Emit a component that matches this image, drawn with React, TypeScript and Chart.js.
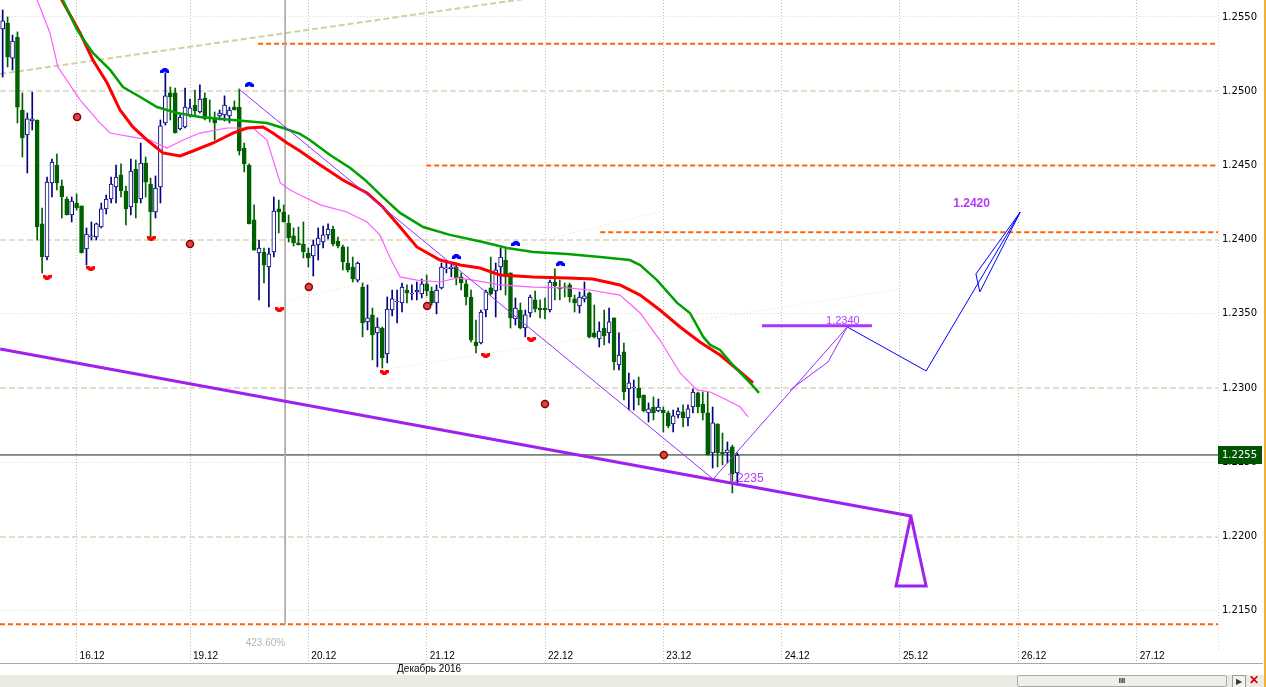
import React, { useEffect, useRef } from 'react';
import { Chart, registerables } from 'chart.js';

Chart.register(...registerables);

// ---------------- data ----------------
// Hourly EURUSD bars; x value = bar index, 0 = 19.12 00:00
const FIRST_BAR = -38;

const opens = [
  1.25419, 1.25459, 1.25223, 1.25365, 1.24873, 1.24705, 1.24799, 1.24806, 1.24106, 1.23883,
  1.24382, 1.24503, 1.24361, 1.24274, 1.24166, 1.24247, 1.24227, 1.23937, 1.24018, 1.24018,
  1.24085, 1.24207, 1.24274, 1.24355, 1.24436, 1.24328, 1.24220, 1.24476, 1.24274, 1.24516,
  1.24375, 1.24186, 1.24355, 1.24786, 1.24988, 1.24988, 1.24745, 1.24759, 1.24840, 1.24907,
  1.24860, 1.24954, 1.24826, 1.24819, 1.24833, 1.24840, 1.24833, 1.24893, 1.24893, 1.24617,
  1.24503, 1.24133, 1.23910, 1.23917, 1.23816, 1.23917, 1.24207, 1.24186, 1.24112, 1.24025,
  1.23978, 1.23971, 1.23910, 1.23890, 1.23964, 1.23984, 1.24032, 1.24072, 1.23991, 1.23951,
  1.23843, 1.23816, 1.23728, 1.23681, 1.23446, 1.23493, 1.23372, 1.23405, 1.23230, 1.23526,
  1.23580, 1.23574, 1.23661, 1.23634, 1.23648, 1.23634, 1.23702, 1.23654, 1.23574, 1.23675,
  1.23803, 1.23803, 1.23816, 1.23749, 1.23702, 1.23614, 1.23311, 1.23304, 1.23526, 1.23675,
  1.23654, 1.23816, 1.23863, 1.23776, 1.23466, 1.23526, 1.23405, 1.23506, 1.23594, 1.23540,
  1.23540, 1.23526, 1.23715, 1.23681, 1.23681, 1.23695, 1.23601, 1.23553, 1.23601, 1.23641,
  1.23372, 1.23331, 1.23405, 1.23372, 1.23473, 1.23156, 1.23244, 1.22995, 1.23001, 1.23001,
  1.22954, 1.22833, 1.22873, 1.22846, 1.22853, 1.22833, 1.22759, 1.22819, 1.22840, 1.22799,
  1.22873, 1.22968, 1.22893, 1.22833, 1.22564, 1.22759, 1.22570, 1.22564, 1.22604, 1.22429,
];
const highs = [
  1.25547, 1.25500, 1.25378, 1.25399, 1.24988, 1.24853, 1.24994, 1.24806, 1.24213, 1.24422,
  1.24543, 1.24577, 1.24402, 1.24287, 1.24287, 1.24308, 1.24227, 1.24079, 1.24119, 1.24112,
  1.24247, 1.24301, 1.24422, 1.24503, 1.24510, 1.24361, 1.24543, 1.24537, 1.24651, 1.24557,
  1.24415, 1.24429, 1.24806, 1.25122, 1.25028, 1.25021, 1.24840, 1.25021, 1.24947, 1.25008,
  1.25042, 1.24988, 1.24941, 1.24860, 1.24873, 1.24968, 1.24893, 1.24934, 1.25015, 1.24651,
  1.24510, 1.24234, 1.23998, 1.23944, 1.23944, 1.24287, 1.24267, 1.24234, 1.24166, 1.24079,
  1.24085, 1.24119, 1.23944, 1.23998, 1.24079, 1.24092, 1.24106, 1.24092, 1.24018, 1.23964,
  1.23951, 1.23883, 1.23850, 1.23708, 1.23695, 1.23540, 1.23473, 1.23412, 1.23614, 1.23661,
  1.23661, 1.23708, 1.23695, 1.23695, 1.23715, 1.23735, 1.23762, 1.23681, 1.23695, 1.23843,
  1.23843, 1.23843, 1.23843, 1.23776, 1.23728, 1.23661, 1.23459, 1.23526, 1.23661, 1.23883,
  1.23843, 1.23944, 1.23937, 1.23776, 1.23607, 1.23574, 1.23526, 1.23627, 1.23654, 1.23594,
  1.23607, 1.23728, 1.23803, 1.23728, 1.23708, 1.23708, 1.23627, 1.23648, 1.23715, 1.23648,
  1.23560, 1.23446, 1.23526, 1.23540, 1.23473, 1.23372, 1.23304, 1.23102, 1.23055, 1.23075,
  1.22954, 1.22900, 1.22941, 1.22927, 1.22873, 1.22846, 1.22853, 1.22867, 1.22887, 1.22887,
  1.22995, 1.22974, 1.22974, 1.22974, 1.22873, 1.22759, 1.22698, 1.22638, 1.22617, 1.22564,
];
const lows = [
  1.25095, 1.25163, 1.25143, 1.24786, 1.24557, 1.24449, 1.24739, 1.23998, 1.23776, 1.23863,
  1.24287, 1.24335, 1.24146, 1.24166, 1.24119, 1.24200, 1.23910, 1.23829, 1.23998, 1.23998,
  1.24079, 1.24173, 1.24247, 1.24247, 1.24287, 1.24099, 1.24166, 1.24146, 1.24247, 1.24287,
  1.24018, 1.24146, 1.24247, 1.24772, 1.24806, 1.24718, 1.24739, 1.24752, 1.24826, 1.24840,
  1.24853, 1.24806, 1.24792, 1.24671, 1.24806, 1.24799, 1.24786, 1.24873, 1.24570, 1.24456,
  1.24106, 1.23930, 1.23594, 1.23708, 1.23547, 1.23883, 1.24045, 1.24119, 1.23984, 1.23957,
  1.23964, 1.23877, 1.23816, 1.23755, 1.23863, 1.23944, 1.24005, 1.23957, 1.23944, 1.23796,
  1.23782, 1.23715, 1.23715, 1.23345, 1.23392, 1.23190, 1.23143, 1.23136, 1.23170, 1.23486,
  1.23439, 1.23513, 1.23574, 1.23594, 1.23594, 1.23607, 1.23621, 1.23560, 1.23500, 1.23668,
  1.23776, 1.23749, 1.23695, 1.23661, 1.23560, 1.23311, 1.23237, 1.23298, 1.23479, 1.23627,
  1.23479, 1.23661, 1.23627, 1.23405, 1.23425, 1.23399, 1.23345, 1.23479, 1.23513, 1.23473,
  1.23466, 1.23513, 1.23594, 1.23594, 1.23614, 1.23580, 1.23513, 1.23506, 1.23580, 1.23338,
  1.23338, 1.23277, 1.23291, 1.23304, 1.23122, 1.23122, 1.22920, 1.22853, 1.22853, 1.22887,
  1.22840, 1.22772, 1.22786, 1.22840, 1.22705, 1.22732, 1.22705, 1.22799, 1.22739, 1.22745,
  1.22833, 1.22833, 1.22786, 1.22550, 1.22462, 1.22469, 1.22483, 1.22496, 1.22294, 1.22348,
];
const closes = [
  1.25473, 1.25230, 1.25338, 1.24893, 1.24685, 1.24813, 1.24813, 1.24085, 1.23883, 1.24388,
  1.24523, 1.24382, 1.24287, 1.24166, 1.24260, 1.24213, 1.23910, 1.24038, 1.24025, 1.24106,
  1.24207, 1.24274, 1.24375, 1.24422, 1.24328, 1.24207, 1.24462, 1.24247, 1.24516, 1.24388,
  1.24186, 1.24348, 1.24766, 1.24968, 1.24961, 1.24718, 1.24826, 1.24893, 1.24887, 1.24867,
  1.24947, 1.24813, 1.24813, 1.24786, 1.24853, 1.24907, 1.24873, 1.24873, 1.24597, 1.24510,
  1.24106, 1.23930, 1.23944, 1.23829, 1.23904, 1.24193, 1.24186, 1.24119, 1.24011, 1.23978,
  1.23964, 1.23917, 1.23877, 1.23964, 1.24011, 1.24032, 1.24072, 1.23971, 1.23957, 1.23850,
  1.23796, 1.23735, 1.23843, 1.23439, 1.23473, 1.23358, 1.23412, 1.23203, 1.23533, 1.23601,
  1.23587, 1.23681, 1.23641, 1.23640, 1.23661, 1.23702, 1.23654, 1.23574, 1.23661, 1.23816,
  1.23809, 1.23816, 1.23742, 1.23708, 1.23614, 1.23324, 1.23284, 1.23513, 1.23648, 1.23634,
  1.23796, 1.23883, 1.23749, 1.23473, 1.23540, 1.23405, 1.23493, 1.23614, 1.23533, 1.23526,
  1.23526, 1.23715, 1.23688, 1.23668, 1.23675, 1.23614, 1.23574, 1.23614, 1.23621, 1.23345,
  1.23345, 1.23385, 1.23351, 1.23446, 1.23176, 1.23223, 1.22974, 1.23035, 1.23005, 1.22934,
  1.22846, 1.22860, 1.22833, 1.22873, 1.22833, 1.22745, 1.22813, 1.22846, 1.22799, 1.22860,
  1.22974, 1.22873, 1.22833, 1.22550, 1.22766, 1.22564, 1.22557, 1.22584, 1.22422, 1.22550,
];

// Moving averages (sampled along the curves)
const maGreenX = [-27, -25.8, -22.9, -19.7, -16.2, -13.6, -10.1, -6.7, -2.6, 2.0, 8.7, 15.6, 18.9, 22.3, 24.3, 28.4, 32.5, 35.5, 39.1, 42.6, 47.3, 52.7, 59.4, 64.3, 69.6, 76.5, 83.2, 89.2, 91.3, 94.7, 98.8, 101.4, 104.1, 105.5, 107.5, 110.1, 113.6, 115.4];
const maGreenY = [1.25702, 1.25614, 1.25412, 1.25257, 1.25143, 1.25028, 1.24961, 1.24893, 1.24853, 1.24826, 1.24806, 1.24786, 1.24752, 1.24712, 1.24671, 1.24570, 1.24483, 1.24402, 1.24287, 1.24180, 1.24085, 1.24032, 1.23984, 1.23944, 1.23917, 1.23904, 1.23883, 1.23863, 1.23829, 1.23728, 1.23574, 1.23506, 1.23345, 1.23291, 1.23257, 1.23156, 1.23035, 1.22968];
const maRedX = [-27, -26.0, -22.3, -19.7, -16.8, -14.2, -11.6, -8.7, -5.5, -2.0, 0.6, 4.7, 8.7, 11.6, 14.8, 16.8, 19.7, 22.3, 26.4, 31.0, 35.9, 39.1, 42.6, 46.0, 50.7, 54.8, 58.8, 62.9, 69.6, 76.5, 81.7, 87.2, 91.3, 95.3, 99.4, 103.4, 107.5, 111.6, 114.2];
const maRedY = [1.25675, 1.25614, 1.25392, 1.25210, 1.25055, 1.24873, 1.24759, 1.24671, 1.24584, 1.24564, 1.24597, 1.24651, 1.24718, 1.24752, 1.24759, 1.24718, 1.24651, 1.24597, 1.24503, 1.24402, 1.24314, 1.24220, 1.24085, 1.23951, 1.23863, 1.23829, 1.23809, 1.23762, 1.23749, 1.23742, 1.23735, 1.23695, 1.23627, 1.23526, 1.23412, 1.23311, 1.23223, 1.23109, 1.23035];
const maPinkX = [-32.5, -31.0, -28.4, -26.8, -22.3, -18.3, -16.2, -11.6, -8.1, -4.7, -1.4, 2.0, 7.5, 12.8, 15.6, 18.3, 20.3, 22.3, 26.4, 31.8, 35.9, 38.5, 40.6, 42.6, 46.0, 50.7, 54.2, 57.4, 62.9, 69.6, 76.5, 81.1, 87.2, 91.3, 95.3, 99.4, 102.8, 105.5, 108.9, 111.6, 113.2];
const maPinkY = [1.25735, 1.25614, 1.25392, 1.25163, 1.24941, 1.24786, 1.24718, 1.24691, 1.24671, 1.24617, 1.24671, 1.24718, 1.24752, 1.24752, 1.24671, 1.24382, 1.24335, 1.24301, 1.24234, 1.24186, 1.24119, 1.24032, 1.23877, 1.23749, 1.23728, 1.23715, 1.23742, 1.23728, 1.23695, 1.23681, 1.23675, 1.23661, 1.23627, 1.23506, 1.23324, 1.23102, 1.22988, 1.22974, 1.22920, 1.22873, 1.22806];

// Drawn objects
const trendX = [-38.5, 146.2, 143.2, 149.3, 146.2];
const trendY = [1.23264, 1.22139, 1.21668, 1.21668, 1.22139];
const waveX = [9.9, 106.1, 133.3];
const waveY = [1.25015, 1.22388, 1.23412];
const waveAltX = [121.7, 129.4, 133.3];
const waveAltY = [1.22988, 1.23176, 1.23412];
const target2340X = [116.0, 138.3];
const target2340Y = [1.2342, 1.2342];
const forecastX = [133.3, 149.3, 168.4];
const forecastY = [1.23412, 1.23116, 1.24186];
const wedgeX = [159.4, 168.4, 160.2, 159.4];
const wedgeY = [1.23769, 1.24186, 1.23648, 1.23769];
const channelX = [-38.5, 80];
const channelY = [1.25116, 1.25679];
const faintLine1X = [16.2, 95.3];
const faintLine1Y = [1.23560, 1.24186];
const faintLine2X = [39.1, 144.0];
const faintLine2Y = [1.23122, 1.23668];
const levelPrices = [1.2532, 1.2450, 1.2405, 1.2141];
const levelStarts = [13.8, 47.9, 83.2, -38.54];
const lastPrice = 1.2255;
const fiboBar = 19.3;
const fiboLow = 1.2141;
const fiboText = '423.60%';

// Fractals and daily pivots
const fracUpX = [-5.1, 12.0, 54.0, 66.1, 75.1];
const fracUpY = [1.25136, 1.25042, 1.23883, 1.23971, 1.23836];
const fracDnX = [-29.0, -20.1, -7.9, 18.1, 39.4, 60.0, 69.2];
const fracDnY = [1.23749, 1.23809, 1.24011, 1.23533, 1.23109, 1.23223, 1.23331];
const pivotX = [-22.9, 0, 24.1, 48.1, 72.0, 96.1];
const pivotY = [1.24826, 1.23971, 1.23681, 1.23553, 1.22893, 1.22550];

// Notes
const noteTexts = ['1.2235', '1.2340', '1.2420'];
const noteBars = [108.9, 129.0, 154.8];
const notePrices = [1.22388, 1.23452, 1.24240];
const monthText = 'Декабрь 2016';
const monthBar = 42;

// Axes
const dayTicks = [-23, 0, 24, 48, 72, 96, 120, 144, 168, 192];
const dayLabels = ['16.12', '19.12', '20.12', '21.12', '22.12', '23.12', '24.12', '25.12', '26.12', '27.12'];
const priceTicks = [1.215, 1.22, 1.225, 1.23, 1.235, 1.24, 1.245, 1.25, 1.255];
const X_MIN = -38.54;
const X_MAX = 208.5;
const Y_MIN = 1.2125;
const Y_MAX = 1.25614;

// ---------------- helpers ----------------
const NAVY = '#000080';
const BEAR = '#006000';
const PURPLE = '#a020f0';

const pts = (xs: number[], ys: number[]) => xs.map((x, i) => ({ x, y: ys[i] }));

function lineDs(xs: number[], ys: number[], color: string, width: number, order: number, dash: number[] = []) {
  return {
    type: 'line' as const,
    data: pts(xs, ys),
    borderColor: color,
    borderWidth: width,
    borderDash: dash,
    pointRadius: 0,
    pointHoverRadius: 0,
    fill: false,
    tension: 0,
    order,
  };
}

function fractalImage(color: string, up: boolean) {
  const c = document.createElement('canvas');
  c.width = 9;
  c.height = 6;
  const g = c.getContext('2d')!;
  g.fillStyle = color;
  const shape = [[3, 0], [6, 0], [9, 2.5], [9, 5], [6, 5], [4.5, 3.5], [3, 5], [0, 5], [0, 2.5]];
  g.beginPath();
  shape.forEach(([px, py], i) => {
    const yy = up ? py : 6 - py;
    if (i) g.lineTo(px, yy); else g.moveTo(px, yy);
  });
  g.closePath();
  g.fill();
  return c;
}

const isBull = (k: number) => closes[k] >= opens[k];

const overlay = {
  id: 'mtOverlay',
  afterDatasetsDraw(chart: any) {
    const { ctx, chartArea: a, scales } = chart;
    const xs = scales.x;
    const ys = scales.y;
    ctx.save();
    ctx.beginPath();
    ctx.rect(a.left, a.top, a.right - a.left, a.bottom - a.top);
    ctx.clip();
    const fonts = ['12px "Liberation Sans", Arial', '11px "Liberation Sans", Arial', 'bold 12px "Liberation Sans", Arial'];
    ctx.textBaseline = 'middle';
    ctx.textAlign = 'left';
    noteTexts.forEach((t, k) => {
      ctx.font = fonts[k];
      ctx.fillStyle = '#b13cff';
      ctx.fillText(t, xs.getPixelForValue(noteBars[k]), ys.getPixelForValue(notePrices[k]));
    });
    // fibo label
    ctx.font = '10px "Liberation Sans", Arial';
    ctx.fillStyle = '#b4b4b4';
    ctx.textAlign = 'right';
    ctx.fillText(fiboText, xs.getPixelForValue(fiboBar), a.bottom - 5);
    ctx.restore();
  },
  afterDraw(chart: any) {
    const { ctx, chartArea: a, scales } = chart;
    const xs = scales.x;
    const ys = scales.y;
    ctx.save();
    // right border of plot
    ctx.strokeStyle = '#d6d6cc';
    ctx.lineWidth = 1;
    ctx.setLineDash([1, 2]);
    ctx.beginPath();
    ctx.moveTo(Math.round(a.right) + 0.5, a.top);
    ctx.lineTo(Math.round(a.right) + 0.5, a.bottom + 2);
    ctx.stroke();
    ctx.setLineDash([]);
    // current price box
    const py = Math.round(ys.getPixelForValue(lastPrice));
    ctx.fillStyle = '#005400';
    ctx.fillRect(a.right, py - 9, 44, 18);
    ctx.fillStyle = '#ffffff';
    ctx.font = '10px "DejaVu Sans", Verdana, sans-serif';
    ctx.textAlign = 'left';
    ctx.textBaseline = 'middle';
    ctx.fillText(lastPrice.toFixed(4), a.right + 4, py);
    // bottom separator and month label
    ctx.strokeStyle = '#a8a8a8';
    ctx.beginPath();
    ctx.moveTo(0, a.bottom + 15.5);
    ctx.lineTo(chart.width - 3, a.bottom + 15.5);
    ctx.stroke();
    ctx.fillStyle = '#000';
    ctx.font = '10px "Liberation Sans", Arial';
    ctx.fillText(monthText, xs.getPixelForValue(monthBar), a.bottom + 21.5);
    ctx.restore();
  },
};

export default function App() {
  const ref = useRef<HTMLCanvasElement | null>(null);

  useEffect(() => {
    document.body.style.margin = '0';
    const canvas = ref.current;
    if (!canvas) return;
    const upImg = fractalImage('#0000ff', true);
    const dnImg = fractalImage('#ff0000', false);
    const idx = opens.map((_, k) => FIRST_BAR + k);

    const datasets: any[] = [];
    levelPrices.forEach((p, k) => {
      datasets.push(lineDs([levelStarts[k], X_MAX], [p, p], '#ff6400', 2, 40, [5, 3]));
    });
    datasets.push(lineDs([X_MIN, X_MAX], [lastPrice, lastPrice], '#0c2a0c', 1, 39));
    datasets.push(lineDs(channelX, channelY, '#d3cfa0', 2, 38, [6, 3]));
    datasets.push(lineDs(faintLine1X, faintLine1Y, '#dedeb0', 1, 38, [1, 3]));
    datasets.push(lineDs(faintLine2X, faintLine2Y, '#dedeb0', 1, 38, [1, 3]));
    datasets.push(lineDs([fiboBar, fiboBar], [Y_MAX, fiboLow], '#aaaaaa', 1, 37));

    datasets.push({
      type: 'bar',
      data: idx.map((x, k) => ({ x, y: [lows[k], highs[k]] })),
      backgroundColor: (c: any) => (isBull(c.dataIndex) ? NAVY : BEAR),
      borderWidth: 0,
      barThickness: 1,
      grouped: false,
      minBarLength: 1,
      order: 30,
    });
    datasets.push({
      type: 'bar',
      data: idx.map((x, k) => ({ x, y: [opens[k], closes[k]] })),
      backgroundColor: (c: any) => {
        const k = c.dataIndex;
        if (!isBull(k)) return BEAR;
        return Math.abs(closes[k] - opens[k]) < 0.00003 ? NAVY : '#ffffff';
      },
      borderColor: (c: any) => (isBull(c.dataIndex) ? NAVY : BEAR),
      borderWidth: 1,
      borderSkipped: false,
      barThickness: 4,
      grouped: false,
      minBarLength: 1,
      order: 29,
    });

    datasets.push(lineDs(maPinkX, maPinkY, '#ff5cff', 1.2, 9));
    datasets.push(lineDs(maRedX, maRedY, '#ff0000', 3, 8));
    datasets.push(lineDs(maGreenX, maGreenY, '#00a000', 2.5, 7));

    datasets.push(lineDs(trendX, trendY, PURPLE, 3, 5));
    datasets.push(lineDs(waveX, waveY, '#9a2cff', 1, 4));
    datasets.push(lineDs(waveAltX, waveAltY, '#9a2cff', 1, 4));
    datasets.push(lineDs(target2340X, target2340Y, '#a933ff', 3, 4));
    datasets.push(lineDs(forecastX, forecastY, '#0000ff', 1, 4));
    datasets.push(lineDs(wedgeX, wedgeY, '#0000ff', 1, 4));

    datasets.push({
      type: 'line', showLine: false, data: pts(fracUpX, fracUpY),
      pointStyle: upImg, pointRadius: 5, order: 1,
    });
    datasets.push({
      type: 'line', showLine: false, data: pts(fracDnX, fracDnY),
      pointStyle: dnImg, pointRadius: 5, order: 1,
    });
    datasets.push({
      type: 'line', showLine: false, data: pts(pivotX, pivotY),
      pointStyle: 'circle', pointRadius: 3.5, pointBorderWidth: 1.5,
      pointBorderColor: '#8e0000', pointBackgroundColor: '#d84848', order: 1,
    });

    const isMajor = (v: number) => Math.round(v * 10000) % 100 === 0;

    const chart = new Chart(canvas, {
      type: 'bar',
      data: { datasets },
      options: {
        animation: false,
        responsive: false,
        maintainAspectRatio: false,
        events: [],
        layout: { padding: 0, autoPadding: false },
        plugins: { legend: { display: false }, tooltip: { enabled: false } },
        scales: {
          x: {
            type: 'linear',
            min: X_MIN,
            max: X_MAX,
            offset: false,
            afterBuildTicks: (s: any) => { s.ticks = dayTicks.map((v) => ({ value: v })); },
            afterFit: (s: any) => {
              s.height = 27;
              s.paddingLeft = 0; s.paddingRight = 0; s.paddingTop = 0; s.paddingBottom = 0;
            },
            grid: {
              offset: false,
              color: '#bcbcbc',
              lineWidth: 1,
              drawTicks: true,
              tickLength: 14,
              tickColor: '#bcbcbc',
              tickWidth: 1,
              tickBorderDash: [1, 2],
            },
            border: { display: false, dash: [1, 2] },
            ticks: {
              autoSkip: false,
              maxRotation: 0,
              minRotation: 0,
              align: 'start',
              labelOffset: 3,
              padding: -12,
              color: '#000',
              font: { family: '"Liberation Sans", Arial', size: 10 },
              callback: (_v: any, i: number) => dayLabels[i],
            },
          },
          y: {
            type: 'linear',
            position: 'right',
            min: Y_MIN,
            max: Y_MAX,
            afterBuildTicks: (s: any) => { s.ticks = priceTicks.map((v) => ({ value: v })); },
            afterFit: (s: any) => {
              s.width = 48;
              s.paddingLeft = 0; s.paddingRight = 0; s.paddingTop = 0; s.paddingBottom = 0;
            },
            grid: {
              drawTicks: false,
              color: (c: any) => (c.tick && isMajor(c.tick.value) ? '#e3dfc8' : '#dcdcd2'),
              lineWidth: (c: any) => (c.tick && isMajor(c.tick.value) ? 2 : 1),
            },
            border: {
              display: false,
              dash: (c: any) => (c.tick && isMajor(c.tick.value) ? [6, 3] : [1, 2]),
            },
            ticks: {
              padding: 4,
              color: '#000',
              font: { family: '"DejaVu Sans", Verdana, sans-serif', size: 10 },
              callback: (v: any) => Number(v).toFixed(4),
            },
          },
        },
      } as any,
      plugins: [overlay],
    });
    return () => chart.destroy();
  }, []);

  return (
    <div style={{ position: 'relative', width: 1266, height: 687, background: '#fff', overflow: 'hidden' }}>
      <canvas ref={ref} width={1266} height={675} style={{ display: 'block', width: 1266, height: 675 }} />
      <div style={{ position: 'absolute', left: 0, top: 675, width: 1266, height: 12, background: '#ecebe3' }} />
      <div
        style={{
          position: 'absolute', left: 1017, top: 675, width: 208, height: 10,
          background: '#efeee8', border: '1px solid #a9a9a9', borderRadius: 2,
          font: 'bold 8px "Liberation Sans", Arial', textAlign: 'center', lineHeight: '10px', color: '#222',
        }}
      >
        III
      </div>
      <div style={{ position: 'absolute', left: 1232, top: 675, width: 12, height: 11, border: '1px solid #9a9a9a', background: '#f2f2ee', font: '8px sans-serif', lineHeight: '11px', textAlign: 'center', color: '#333' }}>▶</div>
      <div style={{ position: 'absolute', left: 1249, top: 674, width: 14, height: 13, font: 'bold 12px sans-serif', color: '#d00000', lineHeight: '13px' }}>✕</div>
      <div style={{ position: 'absolute', left: 1264, top: 0, width: 2, height: 687, background: '#f0b030' }} />
    </div>
  );
}
